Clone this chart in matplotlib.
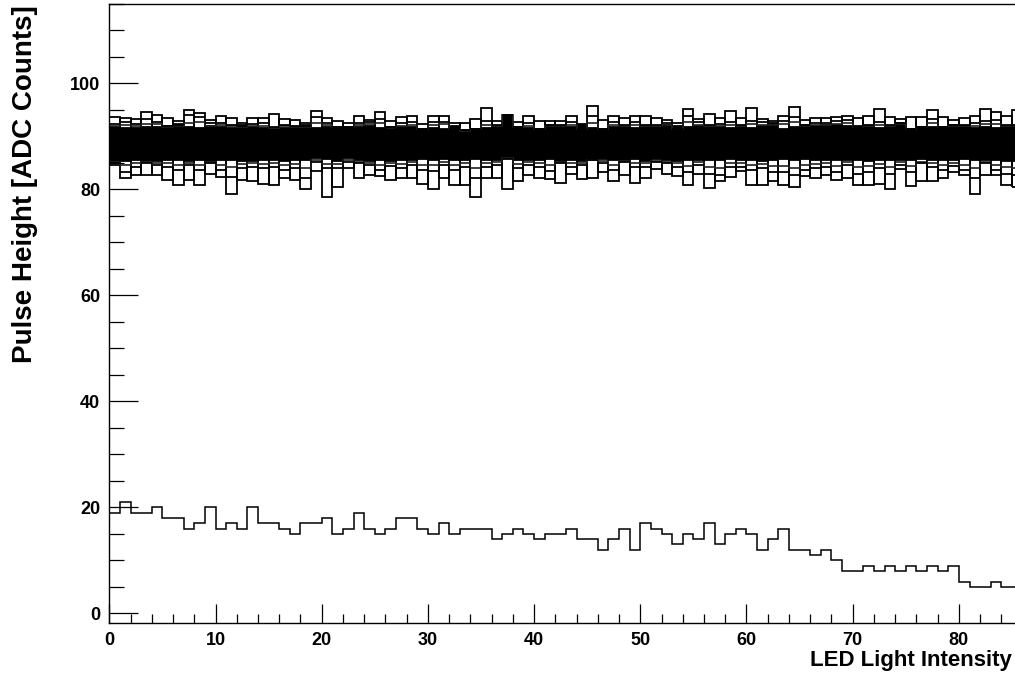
import matplotlib
matplotlib.use('Agg')
import matplotlib.pyplot as plt
import numpy as np
from matplotlib.ticker import MultipleLocator

plt.rcParams['font.family'] = ['Liberation Sans', 'DejaVu Sans']
plt.rcParams['font.weight'] = 'bold'

# pulse height of the dark channel, one value per LED intensity bin
low_ch = [19, 21, 19, 19, 20, 18, 18, 16, 17, 20, 16, 17, 16, 20,
          17, 17, 16, 15, 17, 17, 18, 15, 16, 19, 16, 15, 16, 18,
          18, 16, 15, 17, 15, 16, 16, 16, 14, 15, 16, 15, 14, 15,
          15, 16, 14, 14, 12, 14, 16, 12, 17, 16, 15, 13, 15, 14,
          17, 13, 15, 16, 15, 12, 14, 16, 12, 12, 11, 12, 10, 8, 8,
          9, 8, 9, 8, 9, 8, 9, 8, 9, 6, 5, 5, 6, 5, 5]

# dense band of all other channels: core limits where the curves overlap
core_top = [91.8, 91.6, 91.6, 91.7, 91.8, 92.0, 92.3, 91.8, 91.6, 91.9, 91.7, 91.6, 92.2, 91.7,
            91.6, 91.5, 91.6, 91.8, 92.2, 91.6, 91.8, 91.6, 91.7, 91.8, 92.0, 91.6, 91.5, 91.7,
            91.7, 91.5, 91.6, 91.5, 92.0, 91.2, 91.5, 91.6, 91.7, 94.0, 91.8, 91.6, 91.5, 92.2,
            92.0, 91.8, 92.2, 91.6, 91.5, 91.7, 91.8, 91.6, 91.7, 91.8, 92.2, 91.9, 91.7, 92.0,
            91.8, 91.8, 91.6, 91.8, 91.6, 92.0, 92.3, 91.5, 91.8, 92.2, 91.9, 92.2, 92.1, 91.9, 91.9,
            91.7, 91.6, 91.8, 92.6, 91.5, 91.7, 91.8, 91.7, 92.2, 92.0, 91.6, 91.8, 91.6, 91.7, 91.8]
core_bot = [85.2, 85.4, 85.6, 85.3, 85.4, 85.6, 85.5, 85.3, 85.5, 85.4, 85.6, 85.5, 85.3, 85.4,
            85.5, 85.6, 85.4, 85.6, 85.6, 85.9, 85.7, 85.4, 85.9, 85.5, 85.4, 85.6, 85.4, 85.6,
            85.6, 85.7, 85.6, 85.8, 85.5, 85.6, 85.7, 85.6, 85.6, 85.9, 85.6, 85.5, 85.6, 85.8,
            85.4, 85.6, 85.3, 85.8, 85.7, 85.5, 85.5, 85.7, 85.4, 85.7, 85.6, 85.4, 85.5, 85.6,
            85.5, 85.6, 85.7, 85.6, 85.5, 85.4, 85.6, 85.7, 85.5, 85.7, 85.5, 85.6, 85.5, 85.6, 85.5,
            85.4, 85.6, 85.5, 85.6, 85.6, 85.7, 85.5, 85.6, 85.5, 85.7, 85.6, 85.5, 85.6, 85.4, 85.3]

# highest, second and third highest channel in each bin
hi1 = [93.7, 93.5, 93.3, 94.7, 94.0, 93.5, 92.9, 95.0, 94.5, 93.1, 93.9, 93.5, 92.5, 93.5,
       93.5, 94.2, 93.3, 93.1, 92.5, 94.8, 93.5, 92.9, 92.6, 93.9, 93.1, 94.7, 92.9, 93.7,
       93.9, 92.3, 93.9, 93.9, 92.5, 92.5, 93.3, 95.3, 92.9, 94.0, 92.8, 93.9, 92.9, 92.9,
       92.9, 93.9, 92.3, 95.7, 93.1, 93.9, 93.4, 93.9, 93.9, 93.5, 93.1, 92.5, 95.1, 93.3,
       94.2, 93.4, 94.8, 93.4, 95.3, 93.3, 92.9, 93.9, 95.5, 93.1, 93.4, 93.4, 93.7, 93.9, 93.5,
       93.9, 95.1, 93.7, 93.3, 93.7, 93.7, 95.0, 93.7, 93.1, 93.5, 93.9, 95.1, 94.7, 93.9, 95.0]
hi2 = [92.3, 92.8, 92.3, 93.3, 92.8, 92.0, 92.2, 94.0, 93.7, 92.5, 92.6, 92.1, 92.0, 92.3,
       92.5, 91.8, 92.1, 92.0, 92.0, 93.7, 92.6, 91.8, 91.8, 92.6, 92.8, 93.3, 91.8, 92.5,
       92.8, 91.5, 92.8, 92.8, 91.5, 91.2, 91.5, 92.9, 92.1, 94.0, 91.8, 92.5, 91.5, 92.1,
       92.1, 92.8, 91.5, 93.9, 91.5, 92.8, 92.1, 92.8, 92.1, 92.1, 92.6, 91.5, 93.9, 92.8,
       92.1, 92.3, 92.8, 92.1, 92.9, 92.8, 92.6, 92.9, 93.7, 92.1, 92.6, 92.5, 92.9, 93.1, 91.8,
       92.1, 92.8, 92.1, 92.6, 91.5, 91.8, 93.3, 91.8, 92.1, 92.1, 92.5, 92.9, 93.1, 92.1, 92.1]
hi3 = [92.0, 92.2, 91.9, 92.4, 92.3, 91.8, 91.9, 92.6, 92.7, 92.0, 92.1, 91.9, 91.8, 91.9,
       92.0, 91.6, 91.9, 91.8, 91.8, 92.6, 92.1, 91.7, 91.7, 92.1, 92.3, 92.6, 91.7, 92.0,
       92.2, 91.4, 92.2, 92.3, 91.4, 91.1, 91.4, 92.2, 91.9, 94.0, 91.7, 92.0, 91.4, 91.9,
       91.9, 92.2, 91.4, 92.6, 91.4, 92.2, 91.9, 92.2, 91.9, 91.9, 92.2, 91.4, 92.8, 92.2,
       91.9, 92.0, 92.2, 91.9, 92.3, 92.2, 92.2, 92.3, 92.8, 91.9, 92.2, 92.1, 92.4, 92.5, 91.7,
       91.9, 92.2, 91.9, 92.4, 91.4, 91.7, 92.6, 91.7, 91.9, 91.9, 92.0, 92.3, 92.4, 91.9, 92.0]

# lowest, second and third lowest channel in each bin
lo1 = [84.6, 82.1, 82.7, 82.7, 82.7, 81.8, 80.8, 81.8, 80.8, 83.0, 82.4, 79.1, 81.8, 81.5,
       81.1, 80.9, 82.1, 81.8, 80.1, 83.5, 78.6, 80.5, 84.0, 82.2, 82.7, 82.6, 81.8, 82.2,
       82.2, 81.1, 80.1, 82.1, 80.9, 80.9, 78.6, 82.1, 82.2, 80.1, 81.6, 82.8, 82.2, 82.0,
       81.3, 83.0, 82.0, 82.1, 83.3, 81.6, 82.7, 81.3, 82.1, 83.8, 83.0, 82.5, 80.9, 83.0,
       80.3, 81.6, 82.4, 83.5, 80.9, 80.9, 81.6, 80.8, 80.5, 82.6, 82.2, 82.7, 81.8, 82.2, 80.9,
       80.9, 81.0, 80.1, 83.8, 80.7, 81.6, 81.5, 82.1, 83.2, 82.8, 79.1, 82.7, 82.7, 80.9, 80.5]
lo2 = [84.9, 83.3, 84.3, 84.9, 84.6, 84.3, 83.6, 84.6, 83.6, 84.9, 83.6, 82.4, 84.0, 84.3,
       84.0, 84.3, 83.6, 84.0, 82.1, 85.2, 84.0, 84.0, 85.2, 84.9, 84.6, 83.6, 84.5, 84.0,
       84.6, 83.6, 83.5, 84.6, 83.6, 84.3, 82.1, 84.3, 84.6, 85.8, 84.0, 84.6, 84.3, 83.5,
       84.9, 84.3, 84.6, 85.5, 84.9, 83.6, 85.2, 84.3, 84.3, 85.2, 84.9, 84.3, 83.3, 84.6,
       83.0, 82.7, 84.3, 84.3, 83.6, 84.0, 83.3, 83.3, 82.7, 83.6, 84.0, 84.3, 83.3, 84.6, 83.0,
       83.3, 84.1, 83.0, 84.6, 83.3, 84.9, 84.3, 83.6, 84.5, 83.6, 82.1, 84.9, 83.6, 83.0, 82.7]
lo3 = [85.1, 84.6, 85.0, 85.2, 85.0, 84.9, 84.6, 85.0, 84.6, 85.1, 84.6, 84.2, 84.8, 84.9,
       84.8, 84.9, 84.6, 84.8, 84.0, 85.5, 84.8, 84.8, 85.5, 85.2, 85.0, 84.6, 85.0, 84.8,
       85.1, 84.6, 84.6, 85.1, 84.6, 85.0, 84.0, 85.0, 85.1, 85.9, 84.8, 85.1, 85.0, 84.6,
       85.1, 85.0, 85.0, 85.6, 85.3, 84.6, 85.3, 85.0, 85.0, 85.4, 85.2, 85.0, 84.4, 85.1,
       84.3, 84.1, 85.0, 85.0, 84.6, 84.8, 84.5, 84.5, 84.1, 84.6, 84.8, 85.0, 84.5, 85.1, 84.3,
       84.4, 84.8, 84.3, 85.1, 84.4, 85.2, 84.9, 84.6, 85.0, 84.6, 84.0, 85.2, 84.6, 84.3, 84.1]

edges = np.arange(len(low_ch) + 1)
left = edges[:-1]
centers = left + 0.5
core_top = np.array(core_top)
core_bot = np.array(core_bot)
hi1 = np.array(hi1)
lo1 = np.array(lo1)

W, H = 1015, 686
fig = plt.figure(figsize=(W / 100, H / 100), dpi=100)
# axes run a bit past the right border of the canvas
ax = fig.add_axes([109.3 / W, 63.3 / H, 86 * 10.62 / W, 618.7 / H])

lw = 1.3
ax.fill_between(edges, np.append(core_bot, core_bot[-1]), np.append(core_top, core_top[-1]),
                step='post', color='black', lw=0)
ax.bar(centers, hi1 - core_top, bottom=core_top, width=1, fill=False,
       edgecolor='black', lw=lw)
ax.bar(centers, core_bot - lo1, bottom=lo1, width=1, fill=False,
       edgecolor='black', lw=lw)
ax.hlines(hi2, left, left + 1, color='black', lw=lw)
ax.hlines(lo2, left, left + 1, color='black', lw=lw)
ax.stairs(hi3, edges, baseline=None, color='#202020', lw=1.2)
ax.stairs(lo3, edges, baseline=None, color='#202020', lw=1.2)
ax.stairs(low_ch, edges, baseline=None, color='black', lw=1.1)

ax.set_xlim(0, 86)
ax.set_ylim(-1.77, 115)
ax.xaxis.set_major_locator(MultipleLocator(10))
ax.xaxis.set_minor_locator(MultipleLocator(2))
ax.yaxis.set_major_locator(MultipleLocator(20))
ax.yaxis.set_minor_locator(MultipleLocator(5))
ax.tick_params(which='both', direction='in', top=False, right=False,
               width=0.9, labelsize=13, pad=6.5)
ax.tick_params(axis='x', which='major', length=13.7)
ax.tick_params(axis='x', which='minor', length=6.8)
ax.tick_params(axis='y', which='major', length=20.9)
ax.tick_params(axis='y', which='minor', length=10.8)
for s in ax.spines.values():
    s.set_linewidth(1.0)

fig.text(1012 / W, 1 - 666 / H, 'LED Light Intensity', ha='right', va='baseline',
         fontsize=16, fontweight='bold')
fig.text(25 / W, 1 - 5 / H, 'Pulse Height [ADC Counts]', rotation=90,
         ha='center', va='top', fontsize=20, fontweight='bold')

fig.savefig('out.png', dpi=100)
